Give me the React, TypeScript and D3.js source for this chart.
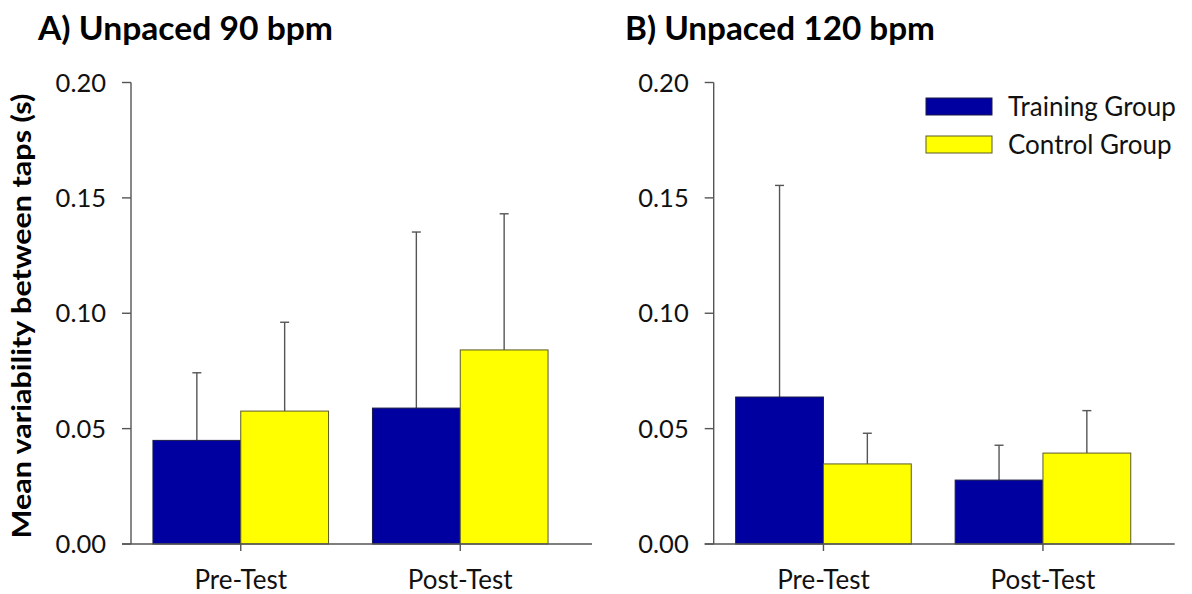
import React from 'react';
import * as d3 from 'd3';

const categories = ['Pre-Test', 'Post-Test'];
const groups = ['Training Group', 'Control Group'];
const yTicks = [0, 0.05, 0.1, 0.15, 0.2];

// panel A: unpaced 90 bpm
const trainA = [0.0449, 0.0589];
const trainAErr = [0.0742, 0.1352];
const ctrlA = [0.0576, 0.0841];
const ctrlAErr = [0.0961, 0.1431];

// panel B: unpaced 120 bpm
const trainB = [0.0637, 0.0277];
const trainBErr = [0.1554, 0.0428];
const ctrlB = [0.0347, 0.0394];
const ctrlBErr = [0.048, 0.0578];

const colors = ['#0000a0', '#ffff00'];
const strokes = ['#1a1a4a', '#5a5a2a'];
const FONT = 'Lato, "Open Sans", sans-serif';

const W = 1192;
const H = 594;

const y = d3.scaleLinear().domain([0, 0.2]).range([544, 82.5]);

const Panel = ({ x0, title, titleX, titleW, means, tops }) => {
  const x = d3.scaleBand().domain(categories).range([x0, x0 + 439]).paddingInner(0.2).paddingOuter(0.1);
  const sub = d3.scaleBand().domain(groups).range([0, x.bandwidth()]);
  return (
    <g>
      <text x={titleX} y={40} fontFamily={FONT} fontWeight="bold" fontSize={33} fill="#000"
        textLength={titleW} lengthAdjust="spacingAndGlyphs">{title}</text>
      {/* bars */}
      {categories.map((c, i) =>
        groups.map((g, j) => {
          const bx = x(c) + sub(g);
          const v = means[j][i];
          const t = tops[j][i];
          const cx = bx + sub.bandwidth() / 2;
          return (
            <g key={c + g}>
              <line x1={cx} x2={cx} y1={y(v)} y2={y(t)} stroke="#555" strokeWidth={1.4} />
              <line x1={cx - 4.5} x2={cx + 4.5} y1={y(t)} y2={y(t)} stroke="#555" strokeWidth={1.4} />
              <rect x={bx} y={y(v)} width={sub.bandwidth()} height={y(0) - y(v)} fill={colors[j]} stroke={strokes[j]} strokeWidth={1} />
            </g>
          );
        })
      )}
      {/* y axis */}
      <line x1={x0} x2={x0} y1={y(0.2)} y2={y(0)} stroke="#555" strokeWidth={1.4} />
      {yTicks.map(t => (
        <g key={t}>
          <line x1={x0 - 9} x2={x0} y1={y(t)} y2={y(t)} stroke="#555" strokeWidth={1.4} />
          <text x={x0 - 25} y={y(t)} dy="0.36em" textAnchor="end" fontFamily={FONT} fontSize={25.5} fill="#111">{d3.format('.2f')(t)}</text>
        </g>
      ))}
      {/* x axis */}
      <line x1={x0 - 9} x2={x0 + 461} y1={y(0)} y2={y(0)} stroke="#555" strokeWidth={1.4} />
      {categories.map(c => {
        const cx = x(c) + x.bandwidth() / 2;
        return (
          <g key={c}>
            <line x1={cx} x2={cx} y1={y(0)} y2={y(0) + 7} stroke="#555" strokeWidth={1.4} />
            <text x={cx} y={589} textAnchor="middle" fontFamily={FONT} fontSize={26} fill="#111">{c}</text>
          </g>
        );
      })}
    </g>
  );
};

export default function App() {
  return (
    <svg width={W} height={H} style={{ position: 'absolute', left: 0, top: 0, background: '#fff' }}>
      <Panel x0={131} title="A) Unpaced 90 bpm" titleX={38} titleW={295} means={[trainA, ctrlA]} tops={[trainAErr, ctrlAErr]} />
      <Panel x0={713.7} title="B) Unpaced 120 bpm" titleX={625} titleW={310} means={[trainB, ctrlB]} tops={[trainBErr, ctrlBErr]} />
      <text transform="translate(31,316) rotate(-90)" textAnchor="middle" fontFamily={FONT} fontWeight="bold" fontSize={27} fill="#000"
        textLength={445} lengthAdjust="spacingAndGlyphs">
        Mean variability between taps (s)
      </text>
      {/* legend */}
      {groups.map((g, j) => (
        <g key={g} transform={`translate(926, ${98 + j * 38})`}>
          <rect x={0} y={0} width={66} height={17} fill={colors[j]} stroke={strokes[j]} strokeWidth={1} />
          <text x={82} y={8.5} dy="0.36em" fontFamily={FONT} fontSize={26} fill="#111">{g}</text>
        </g>
      ))}
    </svg>
  );
}
